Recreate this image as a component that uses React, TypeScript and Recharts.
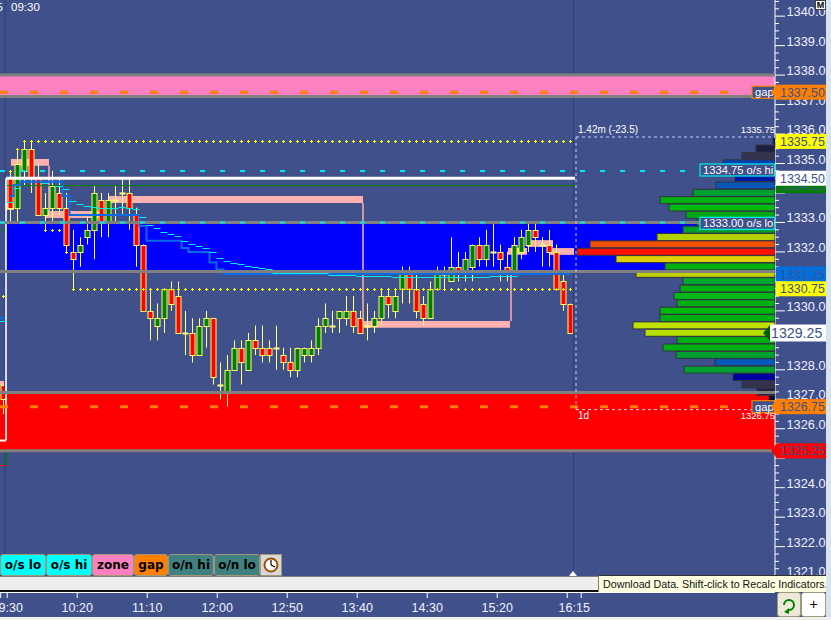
import {
  Bar,
  Cell,
  ComposedChart,
  Line,
  ReferenceArea,
  ReferenceDot,
  ReferenceLine,
  XAxis,
  YAxis,
} from "recharts";

const WIDTH = 831;
const HEIGHT = 620;
const BG = "#40508A";
const OVERLAY_MARGIN = { top: 0, right: 56, bottom: 43, left: 0 };
const PRICE_DOMAIN: [number, number] = [1320.97, 1340.548];
const BAR_DOMAIN: [number, number] = [-0.4286, 110.2857];
const FONT = "'Liberation Sans', sans-serif";

// 5 minute bars
const opens = [
  1327.5, 1334.5, 1333.5, 1334.75, 1335.5, 1334.5, 1333.25, 1333.5, 1334, 1333.5,
  1332, 1332, 1332.5, 1332.75, 1333.75, 1333, 1333.75, 1334, 1334, 1333.25,
  1332.25, 1330, 1329.5, 1329.75, 1330.75, 1330.5, 1329.25, 1329.25, 1328.5, 1329.5,
  1329.75, 1327.5, 1327.25, 1328, 1328.75, 1328, 1329, 1328.75, 1328.75, 1328.75,
  1328.5, 1328.25, 1328, 1328.5, 1328.5, 1328.75, 1329.5, 1329.5, 1329.75, 1329.75,
  1330, 1329.75, 1329.5, 1329.5, 1329.75, 1330.5, 1330, 1330.75, 1331.25, 1330.75,
  1330.25, 1329.75, 1330.75, 1331.25, 1331, 1331.5, 1331.25, 1331.5, 1332.25, 1331.75,
  1332, 1332, 1331.5, 1331.25, 1332, 1332.25, 1332.75, 1332.25, 1332.25, 1332,
  1331, 1330.25,
];
const highs = [
  1327.5, 1334.75, 1335.5, 1335.75, 1335.75, 1335, 1334, 1334.75, 1334.5, 1334,
  1332.75, 1332.5, 1333.25, 1334.25, 1334, 1334, 1334.25, 1334.5, 1334.5, 1333.5,
  1332.25, 1330.75, 1330.25, 1330.75, 1331, 1331, 1330, 1329.75, 1329.75, 1330,
  1329.75, 1328.25, 1328.5, 1329, 1329, 1329.25, 1329.5, 1329.5, 1329, 1329.5,
  1328.75, 1328.75, 1328.75, 1328.75, 1329, 1329.75, 1330.25, 1330, 1330, 1330.5,
  1330.5, 1330, 1330.25, 1330, 1330.75, 1330.75, 1330.75, 1331.5, 1331.5, 1331.25,
  1330.5, 1331, 1331.5, 1331.5, 1332.5, 1332, 1332, 1332.25, 1332.5, 1332.75,
  1333, 1332.25, 1332, 1332.5, 1332.75, 1333, 1333, 1332.5, 1332.75, 1332.25,
  1331.25, 1330.25,
];
const lows = [
  1326.5, 1333, 1333, 1334.25, 1334, 1333.25, 1332.75, 1333, 1333.25, 1332,
  1330.75, 1331.5, 1332.25, 1331.75, 1332.5, 1332.5, 1333, 1333.25, 1332.75, 1331.5,
  1330, 1329, 1329, 1329.25, 1330, 1329.25, 1328.5, 1328.25, 1328.5, 1328.75,
  1327.5, 1327, 1326.75, 1328, 1327.5, 1328, 1328.5, 1328.25, 1328.25, 1328,
  1328, 1327.75, 1327.75, 1328.25, 1328.25, 1328.5, 1329.25, 1329.25, 1329.25, 1329.5,
  1329.25, 1329.25, 1329, 1329.25, 1329.5, 1329.75, 1329.75, 1330.25, 1330.25, 1329.75,
  1329.5, 1329.75, 1330.75, 1330.75, 1331, 1331, 1331, 1331, 1331.5, 1331.5,
  1331.5, 1331, 1331, 1331.25, 1331.75, 1332, 1332, 1331.5, 1331.5, 1330.75,
  1330, 1329.25,
];
const closes = [
  1327, 1333.5, 1335, 1335.5, 1334.5, 1333.25, 1333.5, 1334.25, 1333.5, 1332.25,
  1331.75, 1332.25, 1332.75, 1334, 1333, 1333.75, 1333.75, 1334, 1333.5, 1332.25,
  1330, 1329.75, 1329.75, 1330.75, 1330.25, 1329.25, 1329.25, 1328.5, 1329.5, 1329.75,
  1327.75, 1327.5, 1328, 1328.75, 1328.25, 1329, 1328.75, 1328.5, 1328.5, 1328.75,
  1328.25, 1328, 1328.75, 1328.75, 1328.75, 1329.5, 1329.75, 1329.5, 1330, 1330,
  1329.5, 1329.25, 1329.5, 1329.75, 1330.5, 1330.25, 1330.5, 1331.25, 1330.75, 1330,
  1329.75, 1330.75, 1331.25, 1331.25, 1331.5, 1331.25, 1331.75, 1332.25, 1331.75, 1332.25,
  1332, 1331.75, 1331.25, 1332.25, 1332.5, 1332.75, 1332.5, 1332.25, 1332, 1330.75,
  1330.25, 1329.25,
];

// [first bar, last bar, price] runs of the running session high / low dots
const sessionHighRuns = [
  [1, 1, 1334.75],
  [2, 2, 1335.5],
  [3, 81, 1335.75],
];
const sessionLowRuns = [
  [0, 0, 1330.5],
  [6, 8, 1332.75],
  [9, 9, 1332],
  [10, 81, 1330.75],
];
// thick blue step line
const blueRuns = [
  [1, 1, 1333.9],
  [2, 2, 1334.27],
  [3, 8, 1334.38],
  [9, 9, 1333.9],
  [10, 19, 1333.25],
  [20, 20, 1332.88],
  [21, 25, 1332.38],
  [26, 26, 1332.13],
  [27, 29, 1332],
  [30, 30, 1331.64],
  [31, 31, 1331.4],
  [32, 81, 1331.25],
];
// thin cyan ticks, one per bar
const cyanRuns = [
  [0, 0, 1329.66],
  [1, 1, 1333.68],
  [2, 2, 1334.16],
  [6, 6, 1334.33],
  [8, 8, 1334.24],
  [9, 9, 1334.12],
  [10, 10, 1333.72],
  [11, 11, 1333.61],
  [12, 12, 1333.55],
  [13, 13, 1333.51],
  [14, 14, 1333.49],
  [15, 16, 1333.48],
  [17, 17, 1333.51],
  [18, 18, 1333.5],
  [19, 19, 1333.44],
  [20, 20, 1333.17],
  [21, 21, 1332.9],
  [22, 22, 1332.8],
  [23, 23, 1332.68],
  [24, 24, 1332.6],
  [25, 25, 1332.53],
  [26, 26, 1332.36],
  [27, 27, 1332.26],
  [28, 28, 1332.19],
  [29, 29, 1332.12],
  [30, 30, 1331.99],
  [31, 31, 1331.78],
  [32, 32, 1331.68],
  [33, 33, 1331.63],
  [34, 34, 1331.58],
  [35, 35, 1331.51],
  [36, 36, 1331.48],
  [37, 37, 1331.44],
  [38, 38, 1331.41],
  [39, 46, 1331.3],
  [47, 50, 1331.21],
  [51, 55, 1331.18],
  [56, 69, 1331.14],
  [70, 73, 1331.2],
];

// volume profile
const profilePrices = [
  1335.75, 1335.5, 1335.25, 1335, 1334.75, 1334.5, 1334.25, 1334, 1333.75, 1333.5,
  1333.25, 1333, 1332.75, 1332.5, 1332.25, 1332, 1331.75, 1331.5, 1331.25, 1331,
  1330.75, 1330.5, 1330.25, 1330, 1329.75, 1329.5, 1329.25, 1329, 1328.75, 1328.5,
  1328.25, 1328, 1327.75, 1327.5, 1327.25, 1327,
];
const profileVolumes = [
  2, 19, 33, 52, 60, 40, 59, 82, 115, 106,
  89, 78, 92, 118, 185, 198, 159, 110, 139, 92,
  95, 101, 98, 115, 115, 142, 130, 98, 112, 99,
  60, 91, 42, 33, 18, 6,
];
const profileColors = [
  "#100828", "#1E1E40", "#333350", "#0040B0", "#0030B0", "#0018A8", "#0858B8", "#00A030", "#00B010", "#00B810",
  "#00A818", "#00A030", "#00A030", "#B0D000", "#F05000", "#FF1000", "#E0D000", "#00B010", "#C0D000", "#00A830",
  "#00B010", "#00B818", "#00B010", "#00B808", "#00B010", "#C0E000", "#B8E000", "#00B010", "#00B010", "#00A030",
  "#0058B8", "#00A030", "#0000A0", "#333350", "#222244", "#100828",
];

// zones: [top, bottom, colour]
const zoneTops = [1338, 1333, 1327.23];
const zoneBottoms = [1337.27, 1331.34, 1325.25];
const zoneStarts = [-0.4286, 0.43, -0.4286];
const zoneColors = ["#FF80C0", "#0000FF", "#FF0000"];
const grayLevels = [1338, 1337.27, 1333, 1331.34, 1327.23, 1325.25];
// session separators only show between the zones
const separatorBars = [0.3, 81.5];
const separatorSpans = [
  [1340.548, 1338],
  [1337.27, 1333],
  [1331.34, 1327.23],
  [1325.25, 1320.97],
];

// light pink retest boxes: [first bar, last bar, top, bottom]
const pinkBoxes = [
  [1.14, 6.57, 1335.15, 1334.92],
  [0.14, 1.57, 1333.66, 1333.42],
  [6, 13.86, 1333.39, 1333.15],
  [15.14, 51.43, 1333.9, 1333.66],
  [51.43, 72.43, 1329.66, 1329.43],
  [72.14, 74.86, 1332.13, 1331.9],
  [74.86, 78.57, 1332.4, 1332.17],
  [78.14, 81.57, 1332.13, 1331.9],
  [-0.4286, 0.43, 1327.62, 1327.48],
];
const pinkStems = [
  [6.57, 1334.92, 1333.39],
  [51.43, 1333.66, 1329.66],
  [72.57, 1331.4, 1329.66],
];

const xTicks = [-0.33, 0.6, 10.6, 20.6, 30.6, 40.6, 50.6, 60.6, 70.6, 80.6, 81.6, 82.6];
const xLabels: Record<number, string> = {
  0.6: "09:30",
  10.6: "10:20",
  20.6: "11:10",
  30.6: "12:00",
  40.6: "12:50",
  50.6: "13:40",
  60.6: "14:30",
  70.6: "15:20",
  81.6: "16:15",
};
const wholePrices = [
  1321, 1322, 1323, 1324, 1325, 1326, 1327, 1328, 1329, 1330,
  1331, 1332, 1333, 1334, 1335, 1336, 1337, 1338, 1339, 1340,
];
const yTicks = wholePrices.flatMap((p) => [p, p + 0.25, p + 0.5, p + 0.75]);
const hiddenAxisLabels = [1325, 1329, 1331, 1334];

const flagLabels = ["1337.50", "1335.75", "1334.25", "1334.50", "1331.25", "1330.75", "1326.75", "1325.25"];
const flagPrices = [1337.42, 1335.75, 1334.25, 1334.5, 1331.25, 1330.75, 1326.75, 1325.25];
const flagColors = ["#FF8000", "#FFFF00", "#008000", "#FFFFFF", "#0070E0", "#FFFF00", "#FF8000", "#FF0000"];

const tabLabels = ["o/s lo", "o/s hi", "zone", "gap", "o/n hi", "o/n lo"];
const tabColors = ["#00FFFF", "#00FFFF", "#FF80C0", "#FF8000", "#408080", "#408080"];
const tabWidths = [46, 46, 42, 34, 46, 46];

function expandRuns(runs: number[][], count: number) {
  const out: (number | null)[] = new Array(count).fill(null);
  runs.forEach(([from, to, price]) => {
    for (let i = from; i <= to; i++) out[i] = price;
  });
  return out;
}

const sessionHighs = expandRuns(sessionHighRuns, opens.length);
const sessionLows = expandRuns(sessionLowRuns, opens.length);
const blueLine = expandRuns(blueRuns, opens.length);
const cyanTicks = expandRuns(cyanRuns, opens.length);

const barTable = opens.map((open, i) => ({
  bar: i,
  open,
  close: closes[i],
  range: [lows[i], highs[i]],
  sessionHigh: sessionHighs[i],
  sessionLow: sessionLows[i],
  blue: blueLine[i],
  cyan: cyanTicks[i],
}));

const profileTable = profilePrices.map((price, i) => ({ price, volume: profileVolumes[i] }));

function Candle(props: any) {
  const { x, y, width, height, payload } = props;
  const top = Math.min(y, y + height);
  const span = Math.abs(height);
  const [low, high] = payload.range;
  const toY = (p: number) => top + ((high - p) / (high - low)) * span;
  const cx = Math.round(x + width / 2) + 0.5;
  const bodyTop = Math.round(toY(Math.max(payload.open, payload.close))) + 0.5;
  const bodyBottom = Math.round(toY(Math.min(payload.open, payload.close))) + 0.5;
  const doji = payload.open === payload.close;
  const fill = payload.close > payload.open ? "#008000" : "#FF0000";
  return (
    <g>
      <line x1={cx} x2={cx} y1={top} y2={top + span} stroke="#FFFF80" strokeWidth={1} />
      {doji ? (
        <rect x={cx - 3} y={bodyTop - 1} width={6} height={2} fill="#FFFF80" />
      ) : (
        <rect x={cx - 2.5} y={bodyTop} width={5} height={bodyBottom - bodyTop} fill={fill} stroke="#FFFF66" strokeWidth={1} />
      )}
    </g>
  );
}

function PlusDot(props: any) {
  const { cx, cy, value } = props;
  if (value == null || cy == null) return <g key={props.key} />;
  const px = Math.round(cx) + 0.5;
  const py = Math.round(cy) + 0.5;
  return (
    <path
      key={props.key}
      d={`M${px - 1.5} ${py}H${px + 1.5}M${px} ${py - 1.5}V${py + 1.5}`}
      stroke="#FFFF00"
      strokeWidth={1}
      fill="none"
    />
  );
}

function CyanTick(props: any) {
  const { cx, cy, value } = props;
  if (value == null || cy == null) return <g key={props.key} />;
  const py = Math.round(cy) + 0.5;
  return <line key={props.key} x1={cx - 3.5} x2={cx + 3.5} y1={py} y2={py} stroke="#00F0F0" strokeWidth={1} />;
}

function XTick(props: any) {
  const { x, y, payload } = props;
  const label = xLabels[payload.value];
  const isLabelOnly = payload.value === 81.6;
  return (
    <g>
      {!isLabelOnly && <line x1={x} x2={x} y1={y + 15} y2={y + 21} stroke="#FFFFFF" />}
      {label && (
        <text x={x} y={y + 35} textAnchor="middle" fontSize={12.5} fontFamily={FONT} fill="#F0F0FF">
          {label}
        </text>
      )}
    </g>
  );
}

function YTick(props: any) {
  const { x, y, payload } = props;
  const whole = Number.isInteger(payload.value);
  return (
    <g>
      <line x1={x} x2={x + (whole ? 10 : 4)} y1={y} y2={y} stroke="#FFFFFF" />
      {whole && !hiddenAxisLabels.includes(payload.value) && (
        <text x={x + 11.5} y={y} fontSize={12.8} fontFamily={FONT} fill="#F0F0FF">
          {payload.value.toFixed(1)}
        </text>
      )}
    </g>
  );
}

function priceFlag(label: string, color: string) {
  const arrow = color === "#FF8000" || color === "#FF0000";
  return (props: any) => (
    <g>
      <rect x={props.cx + 1} y={props.cy - 7.5} width={50} height={15} fill={color} />
      {arrow && <path d={`M${props.cx + 1} ${props.cy - 6}L${props.cx - 4} ${props.cy}L${props.cx + 1} ${props.cy + 6}Z`} fill={color} />}
      <text x={props.cx + 5} y={props.cy + 4.5} fontSize={12.4} fontFamily={FONT} fill={BG}>
        {label}
      </text>
    </g>
  );
}

function lastPriceFlag(props: any) {
  return (
    <g>
      <path d={`M${props.cx - 5} ${props.cy - 8}L${props.cx - 12} ${props.cy}L${props.cx - 5} ${props.cy + 8}Z`} fill="#006000" />
      <rect x={props.cx - 5} y={props.cy - 8.5} width={56} height={17} fill="#FFFFFF" />
      <text x={props.cx - 4} y={props.cy + 5} fontSize={14.2} fontFamily={FONT} fill={BG}>
        1329.25
      </text>
    </g>
  );
}

function boxLabel(label: string, border: string, boxWidth: number, boxFill: string) {
  return (props: any) => (
    <g>
      <rect x={props.cx - boxWidth} y={props.cy - 6} width={boxWidth - 0.5} height={12} fill={boxFill} stroke={border} strokeWidth={1.2} />
      <text x={props.cx - boxWidth + 3} y={props.cy + 4} fontSize={11.2} fontFamily={FONT} fill="#FFFFFF">
        {label}
      </text>
    </g>
  );
}

function noteText(label: string, anchor: "start" | "end", size = 10) {
  return (props: any) => (
    <text x={props.cx} y={props.cy} textAnchor={anchor} fontSize={size} fontFamily={FONT} fill="#FFFFFF">
      {label}
    </text>
  );
}

function Tabs() {
  let left = 0;
  return (
    <>
      {tabLabels.map((label, i) => {
        const cell = (
          <div
            key={label}
            style={{
              position: "absolute",
              left,
              top: 554,
              width: tabWidths[i],
              height: 22,
              boxSizing: "border-box",
              background: tabColors[i],
              border: "1px solid #A09878",
              borderRadius: 3,
              font: "bold 12px 'DejaVu Sans', sans-serif",
              color: "#000",
              textAlign: "center",
              lineHeight: "20px",
            }}
          >
            {label}
          </div>
        );
        left += tabWidths[i];
        return cell;
      })}
      <div
        style={{
          position: "absolute",
          left: 260,
          top: 554,
          width: 22,
          height: 22,
          boxSizing: "border-box",
          background: "#D8D8D8",
          border: "1px solid #A09878",
        }}
      >
        <svg width={20} height={20}>
          <circle cx={10} cy={10} r={6.5} fill="#FFF" stroke="#A05000" strokeWidth={2} />
          <path d="M10 10V5M10 10L14 12" stroke="#000" strokeWidth={1.2} />
        </svg>
      </div>
    </>
  );
}

export default function App() {
  return (
    <div style={{ position: "absolute", left: 0, top: 0, width: WIDTH, height: HEIGHT, background: BG, overflow: "hidden" }}>
      <div style={{ position: "absolute", left: 0, top: 0 }}>
        <ComposedChart width={WIDTH} height={HEIGHT} data={barTable} margin={{ top: 0, right: 0, bottom: 0, left: 0 }}>
          <XAxis
            dataKey="bar"
            type="number"
            scale="linear"
            domain={BAR_DOMAIN}
            allowDataOverflow
            ticks={xTicks}
            interval={0}
            height={43}
            axisLine={false}
            tickLine={false}
            tickSize={0}
            tickMargin={0}
            tick={<XTick />}
          />
          <YAxis
            orientation="right"
            type="number"
            domain={PRICE_DOMAIN}
            allowDataOverflow
            ticks={yTicks}
            interval={0}
            width={56}
            axisLine={{ stroke: "#FFFFFF" }}
            tickLine={false}
            tickSize={0}
            tickMargin={0}
            tick={<YTick />}
          />
          {zoneTops.map((top, i) => (
            <ReferenceArea
              key={`zone${i}`}
              x1={zoneStarts[i]}
              x2={BAR_DOMAIN[1]}
              y1={zoneBottoms[i]}
              y2={top}
              fill={zoneColors[i]}
              fillOpacity={1}
              stroke="none"
            />
          ))}
          {separatorBars.flatMap((x) =>
            separatorSpans.map(([y1, y2]) => (
              <ReferenceLine
                key={`sep${x}-${y1}`}
                segment={[{ x, y: y1 }, { x, y: y2 }]}
                stroke={x < 1 ? "#36467E" : "#2E3D78"}
                strokeWidth={x < 1 ? 2 : 1}
              />
            )),
          )}
          {pinkBoxes.map(([x1, x2, y2, y1], i) => (
            <ReferenceArea key={`pink${i}`} x1={x1} x2={x2} y1={y1} y2={y2} fill="#FFB0B0" fillOpacity={1} stroke="none" />
          ))}
          {pinkStems.map(([x, y1, y2], i) => (
            <ReferenceLine key={`stem${i}`} segment={[{ x, y: y1 }, { x, y: y2 }]} stroke="#FFB0B0" strokeWidth={1.5} />
          ))}
          <ReferenceLine segment={[{ x: 0.43, y: 1334.25 }, { x: 81.7, y: 1334.25 }]} stroke="#008000" strokeWidth={1} />
          <ReferenceLine segment={[{ x: -0.4286, y: 1332.75 }, { x: 0.43, y: 1332.75 }]} stroke="#008000" strokeWidth={1} />
          <ReferenceLine segment={[{ x: 0.43, y: 1325.2 }, { x: 0.43, y: 1324.75 }]} stroke="#008000" strokeWidth={1.5} />
          <ReferenceLine segment={[{ x: -0.4286, y: 1324.75 }, { x: 0.43, y: 1324.75 }]} stroke="#FF0000" strokeWidth={1} />
          <ReferenceLine segment={[{ x: -0.4286, y: 1329.76 }, { x: 0.43, y: 1329.76 }]} stroke="#0A6AE8" strokeWidth={2} />
          <Line
            dataKey="blue"
            type="step"
            stroke="#0A6AE8"
            strokeWidth={2}
            dot={false}
            activeDot={false}
            isAnimationActive={false}
          />
          <Bar dataKey="range" barSize={6} isAnimationActive={false} shape={<Candle />} />
          <Line
            dataKey="cyan"
            stroke="none"
            dot={(p: any) => <CyanTick {...p} />}
            activeDot={false}
            isAnimationActive={false}
          />
          <Line
            dataKey="sessionHigh"
            stroke="none"
            dot={(p: any) => <PlusDot {...p} />}
            activeDot={false}
            isAnimationActive={false}
          />
          <Line
            dataKey="sessionLow"
            stroke="none"
            dot={(p: any) => <PlusDot {...p} />}
            activeDot={false}
            isAnimationActive={false}
          />
          <ReferenceLine segment={[{ x: 0.43, y: 1334.5 }, { x: 81.7, y: 1334.5 }]} stroke="#FFFFFF" strokeWidth={3} />
          <ReferenceLine segment={[{ x: 0.43, y: 1334.5 }, { x: 0.43, y: 1325.6 }]} stroke="#FFFFFF" strokeWidth={1.6} />
          <ReferenceLine segment={[{ x: -0.4286, y: 1325.6 }, { x: 0.43, y: 1325.6 }]} stroke="#FFFFFF" strokeWidth={2} />
        </ComposedChart>
      </div>

      <div style={{ position: "absolute", left: 0, top: 0, pointerEvents: "none" }}>
        <ComposedChart width={WIDTH} height={HEIGHT} layout="vertical" data={profileTable} margin={OVERLAY_MARGIN}>
          <XAxis type="number" hide reversed domain={[0, 775]} allowDataOverflow />
          <YAxis type="number" dataKey="price" hide reversed domain={PRICE_DOMAIN} allowDataOverflow />
          <Bar dataKey="volume" barSize={7} stroke="#333340" strokeWidth={1} isAnimationActive={false}>
            {profileColors.map((color, i) => (
              <Cell key={i} fill={color} />
            ))}
          </Bar>
          {grayLevels.map((level) => (
            <ReferenceLine key={level} y={level} stroke="#808080" strokeWidth={3} />
          ))}
          <ReferenceLine
            segment={[{ x: 775, y: 1334.75 }, { x: 85, y: 1334.75 }]}
            stroke="#00E8F8"
            strokeWidth={2}
            strokeDasharray="5 15"
          />
          <ReferenceLine
            segment={[{ x: 775, y: 1333 }, { x: 85, y: 1333 }]}
            stroke="#00E8F8"
            strokeWidth={2}
            strokeDasharray="5 15"
          />
          <ReferenceLine
            segment={[{ x: 775, y: 1337.42 }, { x: 25, y: 1337.42 }]}
            stroke="#FF8000"
            strokeWidth={3}
            strokeDasharray="8 22"
          />
          <ReferenceLine
            segment={[{ x: 775, y: 1326.75 }, { x: 25, y: 1326.75 }]}
            stroke="#FF8000"
            strokeWidth={3}
            strokeDasharray="8 22"
          />
          <ReferenceLine
            segment={[{ x: 199, y: 1335.9 }, { x: 0, y: 1335.9 }]}
            stroke="#C8C8FF"
            strokeDasharray="3 3"
          />
          <ReferenceLine
            segment={[{ x: 199, y: 1326.65 }, { x: 0, y: 1326.65 }]}
            stroke="#C8C8FF"
            strokeDasharray="3 3"
          />
          <ReferenceLine
            segment={[{ x: 199, y: 1335.9 }, { x: 199, y: 1326.65 }]}
            stroke="#C8C8FF"
            strokeDasharray="3 3"
          />
          <ReferenceDot x={197} y={1336.05} ifOverflow="visible" shape={noteText("1.42m (-23.5)", "start")} />
          <ReferenceDot x={0} y={1336.05} ifOverflow="visible" shape={noteText("1335.75", "end", 9.5)} />
          <ReferenceDot x={197} y={1326.33} ifOverflow="visible" shape={noteText("1d", "start")} />
          <ReferenceDot x={0} y={1326.33} ifOverflow="visible" shape={noteText("1326.75", "end", 9.5)} />
          <ReferenceDot x={764} y={1340.17} ifOverflow="visible" shape={noteText("09:30", "start", 11.5)} />
          <ReferenceDot x={772} y={1340.17} ifOverflow="visible" shape={noteText("5", "end", 11.5)} />
          <ReferenceDot x={0} y={1334.78} ifOverflow="visible" shape={boxLabel("1334.75 o/s hi", "#00F0F0", 75, BG)} />
          <ReferenceDot x={0} y={1332.97} ifOverflow="visible" shape={boxLabel("1333.00 o/s lo", "#00F0F0", 75, BG)} />
          <ReferenceDot x={0} y={1337.42} ifOverflow="visible" shape={boxLabel("gap", "#FF8000", 23, BG)} />
          <ReferenceDot x={0} y={1326.75} ifOverflow="visible" shape={boxLabel("gap", "#FF8000", 23, BG)} />
          {flagPrices.map((price, i) => (
            <ReferenceDot
              key={flagLabels[i]}
              x={0}
              y={price}
              ifOverflow="visible"
              shape={priceFlag(flagLabels[i], flagColors[i])}
            />
          ))}
          <ReferenceDot x={0} y={1329.25} ifOverflow="visible" shape={lastPriceFlag} />
        </ComposedChart>
      </div>

      <Tabs />
      {/* status strip under the tabs */}
      <div
        style={{
          position: "absolute",
          left: 0,
          top: 576,
          width: 775,
          height: 16,
          boxSizing: "border-box",
          background: "#EEEEEE",
          borderTop: "1px solid #808080",
          borderBottom: "2px solid #101010",
        }}
      />
      <div style={{ position: "absolute", left: 0, top: 592, width: 775, height: 1, background: "#FFFFFF" }} />
      <div
        style={{
          position: "absolute",
          left: 569,
          top: 571,
          width: 0,
          height: 0,
          borderLeft: "4px solid transparent",
          borderRight: "4px solid transparent",
          borderBottom: "5px solid #FFFFFF",
        }}
      />
      <div
        style={{
          position: "absolute",
          left: 598,
          top: 575,
          width: 231,
          height: 17,
          boxSizing: "border-box",
          background: "#FFFFE1",
          borderTop: "1px solid #303030",
          borderLeft: "1px solid #808060",
          font: `10.7px ${FONT}`,
          color: "#101010",
          lineHeight: "16px",
          paddingLeft: 4,
          whiteSpace: "nowrap",
        }}
      >
        Download Data. Shift-click to Recalc Indicators.
      </div>

      {/* corner controls */}
      <div style={{ position: "absolute", left: 826, top: 0, width: 5, height: 620, background: "#D6E4F2" }} />
      <div style={{ position: "absolute", left: 0, top: 617, width: 831, height: 3, background: "#F0F0F0" }} />
      <div
        style={{
          position: "absolute",
          left: 815,
          top: 0,
          width: 11,
          height: 10,
          boxSizing: "border-box",
          background: "#FFFFFF",
          border: "1px solid #404040",
          font: `bold 9px ${FONT}`,
          color: "#000",
          textAlign: "center",
          lineHeight: "8px",
        }}
      >
        M
      </div>
      <div
        style={{
          position: "absolute",
          left: 777,
          top: 592,
          width: 24,
          height: 25,
          boxSizing: "border-box",
          background: "#ECE9D8",
          border: "1px solid #A09878",
          borderRadius: 3,
        }}
      >
        <svg width={22} height={23}>
          <path d="M6 12a5 5 0 1 1 5 5" fill="none" stroke="#008000" strokeWidth={2} />
          <path d="M6 19l5-4v6z" fill="#008000" />
        </svg>
      </div>
      <div
        style={{
          position: "absolute",
          left: 801,
          top: 592,
          width: 25,
          height: 25,
          boxSizing: "border-box",
          background: "#FFFFFF",
          border: "1px solid #A09878",
          borderRadius: 3,
          font: `14px ${FONT}`,
          color: "#000",
          textAlign: "center",
          lineHeight: "22px",
        }}
      >
        +
      </div>
    </div>
  );
}
